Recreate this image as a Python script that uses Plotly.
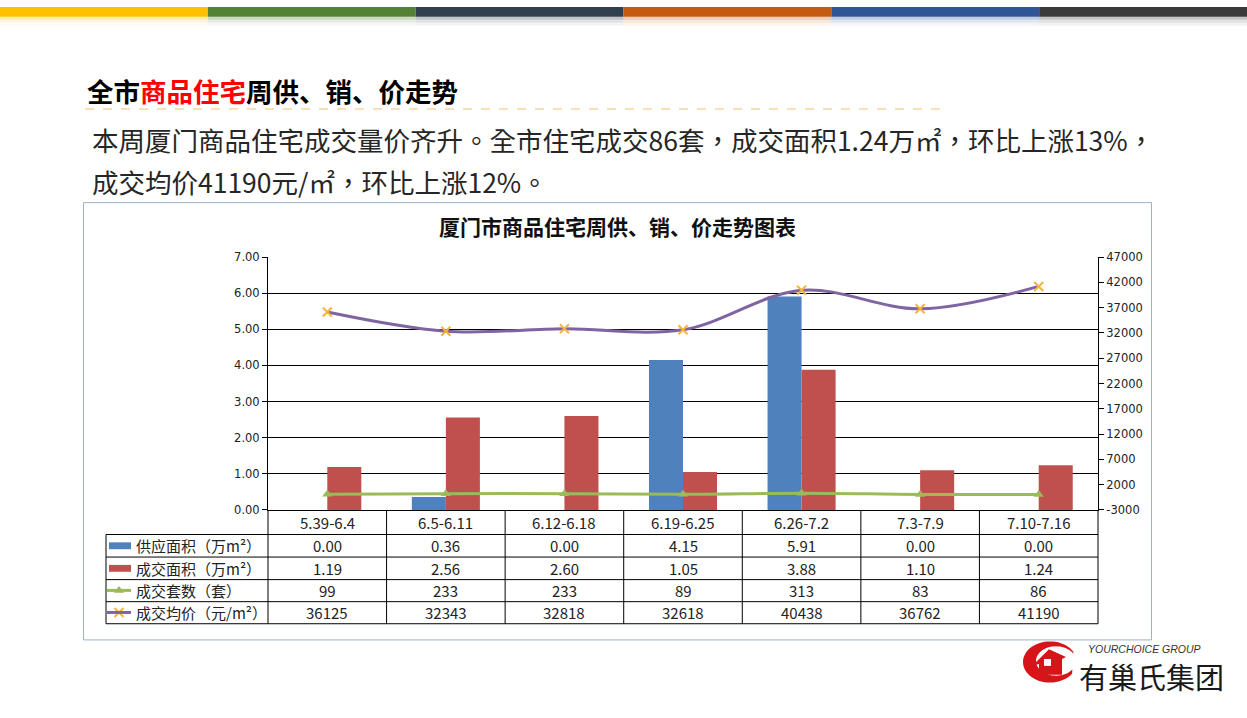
import numpy as np
import plotly.graph_objects as go

W, H = 1247, 718

# ---------------- data ----------------
categories = ["5.39-6.4", "6.5-6.11", "6.12-6.18", "6.19-6.25", "6.26-7.2", "7.3-7.9", "7.10-7.16"]
supply_area = [0.00, 0.36, 0.00, 4.15, 5.91, 0.00, 0.00]
deal_area = [1.19, 2.56, 2.60, 1.05, 3.88, 1.10, 1.24]
deal_units = [99, 233, 233, 89, 313, 83, 86]
avg_price = [36125, 32343, 32818, 32618, 40438, 36762, 41190]
series_names = ["供应面积（万m²）", "成交面积（万m²）", "成交套数（套）", "成交均价（元/m²）"]
left_ticks = [0, 1, 2, 3, 4, 5, 6, 7]
right_ticks = [-3000, 2000, 7000, 12000, 17000, 22000, 27000, 32000, 37000, 42000, 47000]

BLUE, RED, GREEN, PURPLE, XMARK = "#4F81BD", "#C0504D", "#9BBB59", "#8064A2", "#F5B43C"
CJK = "Noto Sans CJK SC"
CJK_TC = "Noto Sans CJK TC"

def X(px):
    return px / W

def Y(py):
    return 1 - py / H

fig = go.Figure()

# bars (left axis)
fig.add_trace(go.Bar(x=categories, y=supply_area, name=series_names[0], marker_color=BLUE,
                     marker_line_width=0, xaxis="x", yaxis="y"))
fig.add_trace(go.Bar(x=categories, y=deal_area, name=series_names[1], marker_color=RED,
                     marker_line_width=0, xaxis="x", yaxis="y"))
# lines (right axis)
fig.add_trace(go.Scatter(x=categories, y=deal_units, name=series_names[2], mode="lines+markers",
                         line=dict(color=GREEN, width=3, shape="spline"),
                         marker=dict(symbol="triangle-up", size=9, color=GREEN),
                         xaxis="x", yaxis="y2", cliponaxis=False))
fig.add_trace(go.Scatter(x=categories, y=avg_price, name=series_names[3], mode="lines+markers",
                         line=dict(color=PURPLE, width=3, shape="spline"),
                         marker=dict(symbol="x-thin", size=9, line=dict(color=XMARK, width=2)),
                         xaxis="x", yaxis="y2", cliponaxis=False))

# legend keys inside the table (pixel overlay axis)
key_x = 119
row_y = [549.5, 572.5, 595, 617.5]
fig.add_trace(go.Scatter(x=[key_x], y=[row_y[2]], mode="markers",
                         marker=dict(symbol="triangle-up", size=9, color=GREEN),
                         xaxis="x3", yaxis="y3", hoverinfo="skip"))
fig.add_trace(go.Scatter(x=[key_x], y=[row_y[3]], mode="markers",
                         marker=dict(symbol="x-thin", size=9, line=dict(color=XMARK, width=2)),
                         xaxis="x3", yaxis="y3", hoverinfo="skip"))

shapes = []
annotations = []

def pxline(x0, y0, x1, y1, color="black", width=1, dash="solid", xref="x3"):
    shapes.append(dict(type="line", xref=xref, yref="y3", x0=x0, y0=y0, x1=x1, y1=y1,
                       line=dict(color=color, width=width, dash=dash), layer="below"))

# top colour stripe
stripe_cols = ["#FFC000", "#548235", "#323F4F", "#C55A11", "#2F5597", "#3A3A3A"]
seg = W / 6
for i, c in enumerate(stripe_cols):
    shapes.append(dict(type="rect", xref="x3", yref="y3", x0=i * seg, x1=(i + 1) * seg, y0=0, y1=10,
                       fillcolor=c, line_width=0, layer="below"))
    for (a, b, op) in [(10, 13, 0.30), (13, 16, 0.15), (16, 19, 0.06)]:
        shapes.append(dict(type="rect", xref="x3", yref="y3", x0=i * seg, x1=(i + 1) * seg, y0=a, y1=b,
                           fillcolor=c, opacity=op, line_width=0, layer="below"))

# dashed rule under the slide title
pxline(85, 104, 948, 104, color="#F0C070", width=1, dash="dash")

# chart frame
shapes.append(dict(type="rect", xref="x3", yref="y3", x0=83.5, x1=1151.5, y0=199.5, y1=645.5,
                   line=dict(color="#9DB3C8", width=1), fillcolor="rgba(0,0,0,0)", layer="below"))

# table grid
table_left, plot_left, plot_right = 106, 268, 1098
pxline(plot_left, 513, plot_left, 629)
pxline(plot_right, 513, plot_right, 629)
pxline(table_left, 538, table_left, 629)
for yy in [538, 561, 584, 606.5, 629]:
    pxline(table_left, yy, plot_right, yy)
for i in range(1, len(categories)):
    shapes.append(dict(type="line", xref="x", yref="y3", x0=i - 0.5, x1=i - 0.5, y0=513, y1=629,
                       line=dict(color="black", width=1), layer="below"))

# legend keys
shapes.append(dict(type="rect", xref="x3", yref="y3", x0=109, x1=131, y0=546, y1=553,
                   fillcolor=BLUE, line_width=0))
shapes.append(dict(type="rect", xref="x3", yref="y3", x0=109, x1=131, y0=569, y1=576,
                   fillcolor=RED, line_width=0))
shapes.append(dict(type="line", xref="x3", yref="y3", x0=107, x1=131, y0=row_y[2], y1=row_y[2],
                   line=dict(color=GREEN, width=3)))
shapes.append(dict(type="line", xref="x3", yref="y3", x0=107, x1=131, y0=row_y[3], y1=row_y[3],
                   line=dict(color=PURPLE, width=3)))

# table texts
tfont = dict(family=CJK_TC, size=15, color="#222222")
for c in categories:
    annotations.append(dict(xref="x", yref="y3", x=c, y=526, text=c, showarrow=False, font=tfont))
rows = [[f"{v:.2f}" for v in supply_area], [f"{v:.2f}" for v in deal_area],
        [str(v) for v in deal_units], [str(v) for v in avg_price]]
for r, vals in enumerate(rows):
    annotations.append(dict(xref="x3", yref="y3", x=134, y=row_y[r], text=series_names[r],
                            xanchor="left", showarrow=False, font=tfont))
    for c, v in zip(categories, vals):
        annotations.append(dict(xref="x", yref="y3", x=c, y=row_y[r], text=v, showarrow=False, font=tfont))

# slide title & paragraph
annotations.append(dict(xref="x3", yref="y3", x=85, y=85, xanchor="left", showarrow=False,
                        text="<b>全市<span style='color:#FF0000'>商品住宅</span>周供、销、价走势</b>",
                        font=dict(family=CJK, size=26.5, color="#000000")))
pfont = dict(family=CJK_TC, size=26.5, color="#262626")
annotations.append(dict(xref="x3", yref="y3", x=90, y=135, xanchor="left", showarrow=False, font=pfont,
                        text="本周厦门商品住宅成交量价齐升。全市住宅成交86套，成交面积1.24万㎡，环比上涨13%，"))
annotations.append(dict(xref="x3", yref="y3", x=90, y=178, xanchor="left", showarrow=False, font=pfont,
                        text="成交均价41190元/㎡，环比上涨12%。"))
# chart title
annotations.append(dict(xref="x3", yref="y3", x=617, y=223, showarrow=False,
                        text="<b>厦门市商品住宅周供、销、价走势图表</b>",
                        font=dict(family=CJK, size=21, color="#111111")))

# logo: red crescent swoosh + house
ang_o = np.deg2rad(np.linspace(35, 330, 50))
ang_i = ang_o[::-1]
outer = [(1050 + 27 * np.cos(a), 668 + 21 * np.sin(a)) for a in ang_o]
inner = [(1056 + 20 * np.cos(a), 667 + 15 * np.sin(a)) for a in ang_i]
path = "M " + " L ".join(f"{x:.1f},{y:.1f}" for x, y in outer + inner) + " Z"
shapes.append(dict(type="path", xref="x3", yref="y3", path=path, fillcolor="#D7141A", line_width=0))
shapes.append(dict(type="path", xref="x3", yref="y3",
                   path="M 1032,672 L 1049,655 L 1066,663 L 1062,665 L 1062,681 L 1039,681 L 1039,670 Z",
                   fillcolor="#D7141A", line_width=0))
shapes.append(dict(type="rect", xref="x3", yref="y3", x0=1044, x1=1051, y0=665, y1=672,
                   fillcolor="white", line_width=0))
annotations.append(dict(xref="x3", yref="y3", x=1086, y=655, xanchor="left", showarrow=False,
                        text="<i>YOURCHOICE GROUP</i>", font=dict(family="Liberation Sans", size=10.5, color="#333333")))
annotations.append(dict(xref="x3", yref="y3", x=1077, y=682, xanchor="left", showarrow=False,
                        text="有巢氏集团", font=dict(family=CJK, size=29, color="#1A1A1A")))

axfont = dict(family="DejaVu Sans", size=11.5, color="#222222")
fig.update_layout(
    width=W, height=H, margin=dict(l=0, r=0, t=0, b=0),
    paper_bgcolor="white", plot_bgcolor="rgba(0,0,0,0)",
    showlegend=False, barmode="group", bargap=0.426, bargroupgap=0,
    xaxis=dict(domain=[X(268), X(1098)], anchor="y", type="category", range=[-0.5, 6.5],
               showticklabels=False, showgrid=False, zeroline=False, showline=True,
               linecolor="black", linewidth=1, ticks="", fixedrange=True),
    yaxis=dict(domain=[Y(513), Y(255)], anchor="x", range=[0, 7], tickvals=left_ticks,
               ticktext=[f"{v:.2f}" for v in left_ticks], ticks="outside", ticklen=5,
               tickcolor="black", showline=True, linecolor="black", linewidth=1,
               showgrid=True, gridcolor="black", gridwidth=1, zeroline=False, tickfont=axfont),
    yaxis2=dict(overlaying="y", side="right", anchor="x", range=[-3000, 47000], tickvals=right_ticks,
                ticktext=[str(v) for v in right_ticks], ticks="outside", ticklen=5, tickcolor="black",
                showline=True, linecolor="black", linewidth=1, showgrid=False, zeroline=False,
                tickfont=axfont),
    xaxis3=dict(domain=[0, 1], anchor="y3", range=[0, W], visible=False, fixedrange=True),
    yaxis3=dict(domain=[0, 1], anchor="x3", range=[H, 0], visible=False, fixedrange=True),
    shapes=shapes, annotations=annotations,
)

fig.write_html("out.html")
